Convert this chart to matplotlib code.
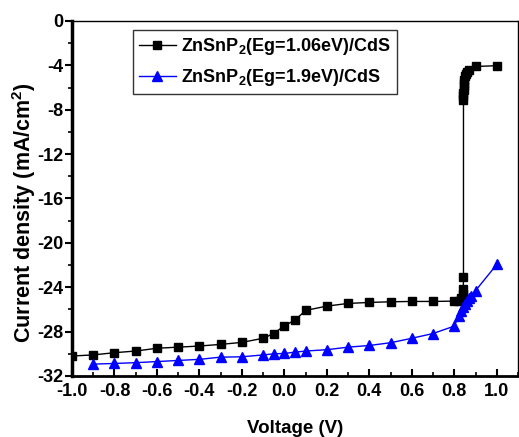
import matplotlib
matplotlib.use("Agg")
import matplotlib.pyplot as plt
from matplotlib.ticker import MultipleLocator

plt.rcParams['font.family'] = ['Liberation Sans', 'DejaVu Sans']
plt.rcParams['font.weight'] = 'bold'
plt.rcParams['mathtext.fontset'] = 'custom'
plt.rcParams['mathtext.rm'] = 'Liberation Sans:bold'
plt.rcParams['mathtext.bf'] = 'Liberation Sans:bold'
plt.rcParams['mathtext.default'] = 'bf'

# Eg = 1.06 eV
v1 = [-1.0, -0.9, -0.8, -0.7, -0.6, -0.5, -0.4, -0.3, -0.2, -0.1, -0.05, 0.0,
      0.05, 0.1, 0.2, 0.3, 0.4, 0.5, 0.6, 0.7, 0.8, 0.82, 0.83, 0.84, 0.842,
      0.843, 0.843, 0.843, 0.843, 0.844, 0.844, 0.845, 0.846, 0.85, 0.855,
      0.86, 0.87, 0.9, 1.0]
j1 = [-30.2, -30.1, -29.9, -29.75, -29.5, -29.4, -29.3, -29.15, -28.97, -28.6,
      -28.17, -27.47, -26.96, -26.09, -25.7, -25.46, -25.37, -25.31, -25.28,
      -25.28, -25.25, -25.2, -25.0, -24.6, -24.2, -23.05, -7.1, -6.8, -6.5,
      -6.2, -5.9, -5.6, -5.3, -5.0, -4.8, -4.6, -4.4, -4.1, -4.03]

# Eg = 1.9 eV
v2 = [-0.9, -0.8, -0.7, -0.6, -0.5, -0.4, -0.3, -0.2, -0.1, -0.05, 0.0, 0.05,
      0.1, 0.2, 0.3, 0.4, 0.5, 0.6, 0.7, 0.8, 0.82, 0.83, 0.84, 0.85, 0.86,
      0.87, 0.88, 0.9, 1.0]
j2 = [-30.93, -30.87, -30.8, -30.7, -30.6, -30.5, -30.3, -30.27, -30.1, -30.0,
      -29.97, -29.85, -29.75, -29.63, -29.4, -29.25, -29.0, -28.6, -28.17,
      -27.5, -26.6, -26.1, -25.8, -25.5, -25.25, -25.0, -24.8, -24.3, -21.94]

xticks = [-1.0, -0.8, -0.6, -0.4, -0.2, 0.0, 0.2, 0.4, 0.6, 0.8, 1.0]
yticks = list(range(-32, 1, 4))

fig = plt.figure(figsize=(5.19, 4.37), dpi=100)
ax = fig.add_axes([0.1387, 0.1396, 0.8595, 0.8124])

ax.plot(v1, j1, color='black', lw=1, marker='s', ms=6,
        label=r'ZnSnP$_2$(Eg=1.06eV)/CdS')
ax.plot(v2, j2, color='blue', lw=1, marker='^', ms=7.5,
        label=r'ZnSnP$_2$(Eg=1.9eV)/CdS')

ax.set_xlim(-1.0, 1.1)
ax.set_ylim(-32, 0)
ax.xaxis.set_minor_locator(MultipleLocator(0.1))
ax.yaxis.set_minor_locator(MultipleLocator(2))
ax.set_xticks(xticks)
ax.set_xticklabels(['%.1f' % t for t in xticks])
ax.set_yticks(yticks)
ax.set_yticklabels([str(t) for t in yticks])

ax.tick_params(axis='x', which='major', direction='in', length=5, width=1.5,
               labelsize=13, pad=5)
ax.tick_params(axis='x', which='minor', direction='in', length=3, width=1.2)
ax.tick_params(axis='y', which='major', direction='out', length=5, width=1.5,
               labelsize=13, pad=1)
ax.tick_params(axis='y', which='minor', direction='out', length=3, width=1.2)

ax.spines['left'].set_linewidth(2.5)
ax.spines['bottom'].set_linewidth(2)
ax.spines['top'].set_linewidth(1)
ax.spines['right'].set_linewidth(1)

ax.set_xlabel('Voltage (V)', fontsize=13.5, fontweight='bold')
ax.xaxis.set_label_coords(0.5, -0.124)
ax.set_ylabel(r'Current density (mA/cm$^2$)', fontsize=15.5,
              fontweight='bold')
ax.yaxis.set_label_coords(-0.077, 0.46)

leg = ax.legend(loc='upper left', bbox_to_anchor=(0.137, 0.975), fontsize=13,
                frameon=True, fancybox=False, handlelength=2.0,
                borderpad=0.35, labelspacing=0.55, handletextpad=0.3,
                borderaxespad=0)
leg.get_frame().set_edgecolor('black')
leg.get_frame().set_linewidth(1)
for t in leg.get_texts():
    t.set_fontweight('bold')

fig.savefig('out.png', dpi=100)
